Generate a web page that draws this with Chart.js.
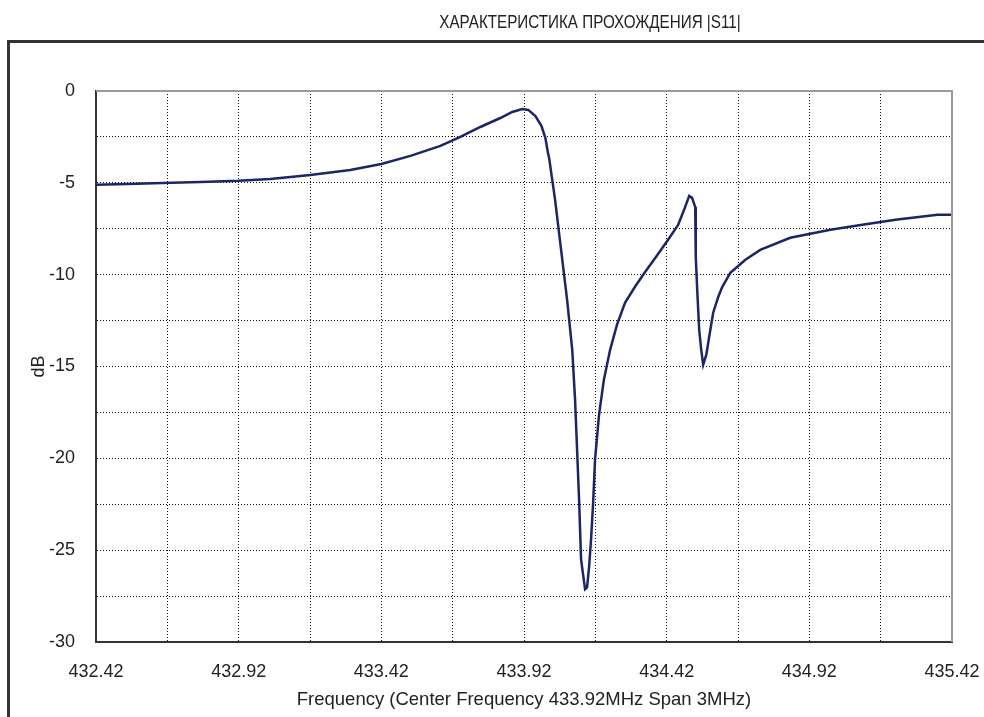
<!DOCTYPE html>
<html>
<head>
<meta charset="utf-8">
<script src="https://cdn.jsdelivr.net/npm/chart.js@4.4.1/dist/chart.umd.min.js"></script>
<style>
  body { margin: 0; background: #fff; }
  #wrap { position: relative; width: 984px; height: 717px; overflow: hidden; }
  #title { position: absolute; left: 390px; width: 400px; top: 12px; text-align: center;
           font: 18px "Liberation Sans", Arial, sans-serif; color: #222;
           transform: scaleX(0.845); transform-origin: 200px 0; }
</style>
</head>
<body>
<div id="wrap">
  <div id="title">ХАРАКТЕРИСТИКА ПРОХОЖДЕНИЯ |S11|</div>
  <canvas id="chart"></canvas>
</div>
<script>
const freqMHz = [432.42, 432.53, 432.684, 432.786, 432.919, 433.031, 433.171, 433.311, 433.42, 433.522,
  433.627, 433.697, 433.767, 433.837, 433.879, 433.914, 433.935, 433.96, 433.981, 433.995,
  434.004, 434.008, 434.029, 434.05, 434.071, 434.089, 434.099, 434.106, 434.113, 434.12,
  434.127, 434.134, 434.141, 434.148, 434.155, 434.162, 434.169, 434.183, 434.2, 434.222,
  434.246, 434.274, 434.309, 434.345, 434.383, 434.425, 434.46, 434.481, 434.499, 434.509,
  434.52, 434.522, 434.527, 434.534, 434.541, 434.548, 434.559, 434.569, 434.583, 434.601,
  434.615, 434.643, 434.696, 434.748, 434.853, 434.994, 435.1, 435.222, 435.369, 435.42];
const s11dB = [-5.11, -5.06, -5.0, -4.95, -4.89, -4.79, -4.57, -4.30, -3.97, -3.53,
  -2.99, -2.50, -1.96, -1.47, -1.14, -0.98, -1.03, -1.36, -1.90, -2.56,
  -3.37, -3.64, -5.93, -8.65, -11.36, -14.08, -16.80, -19.52, -22.24, -25.50,
  -26.32, -27.13, -27.03, -25.94, -24.42, -22.51, -20.07, -17.62, -15.72, -14.08,
  -12.72, -11.53, -10.66, -9.84, -9.03, -8.10, -7.29, -6.47, -5.71, -5.82,
  -6.31, -9.03, -10.82, -13.0, -14.08, -14.9, -14.36, -13.38, -12.07, -11.2,
  -10.66, -9.9, -9.19, -8.65, -7.99, -7.56, -7.29, -7.01, -6.74, -6.74];

// grid every 0.25 MHz, labels every 0.5 MHz
const xTicks = [432.42, 432.67, 432.92, 433.17, 433.42, 433.67, 433.92, 434.17, 434.42, 434.67, 434.92, 435.17, 435.42];
const xLabels = ['432.42', '432.92', '433.42', '433.92', '434.42', '434.92', '435.42'];
const yTicks = [0, -2.5, -5, -7.5, -10, -12.5, -15, -17.5, -20, -22.5, -25, -27.5, -30];
const yLabels = ['0', '-5', '-10', '-15', '-20', '-25', '-30'];

const points = freqMHz.map((f, i) => ({x: f, y: s11dB[i]}));
const FONT = 'Liberation Sans, Arial, sans-serif';

const framePlugin = {
  id: 'frame',
  beforeDraw(chart) {
    const ctx = chart.ctx;
    ctx.save();
    ctx.strokeStyle = '#333';
    ctx.lineWidth = 3;
    ctx.strokeRect(8.5, 41.5, 1200, 1000);
    ctx.restore();
  },
  afterDraw(chart) {
    const {ctx, chartArea: a} = chart;
    ctx.save();
    ctx.strokeStyle = '#9a9a9a';
    ctx.lineWidth = 2;
    ctx.beginPath();
    ctx.moveTo(a.left, a.top);
    ctx.lineTo(a.right, a.top);
    ctx.lineTo(a.right, a.bottom);
    ctx.stroke();
    ctx.restore();
  }
};

new Chart(document.getElementById('chart'), {
  type: 'line',
  data: {
    datasets: [{
      data: points,
      borderColor: '#1c2566',
      borderWidth: 2.5,
      pointRadius: 0,
      tension: 0,
      fill: false
    }]
  },
  options: {
    responsive: true,
    maintainAspectRatio: false,
    animation: false,
    layout: {padding: {left: 16, right: 32, top: 91, bottom: 0}},
    plugins: {legend: {display: false}, tooltip: {enabled: false}},
    scales: {
      x: {
        type: 'linear',
        min: 432.42,
        max: 435.42,
        afterBuildTicks: s => { s.ticks = xTicks.map(v => ({value: v})); },
        afterFit: s => { s.height = 75; s.paddingLeft = 0; s.paddingRight = 0; },
        ticks: {
          autoSkip: false, maxRotation: 0, padding: 19, color: '#222',
          font: {family: FONT, size: 18},
          callback: (v, i) => (i % 2 === 0 ? xLabels[i / 2] : '')
        },
        grid: {
          drawTicks: false, lineWidth: 1,
          color: c => (c.index === xTicks.length - 1 ? 'rgba(0,0,0,0)' : '#111')
        },
        border: {color: '#333', width: 2, dash: [1, 2]},
        title: {
          display: true, text: 'Frequency (Center Frequency 433.92MHz Span 3MHz)',
          color: '#222', font: {family: FONT, size: 18.5}, padding: {top: 0, bottom: 6}
        }
      },
      y: {
        min: -30,
        max: 0,
        afterBuildTicks: s => { s.ticks = yTicks.map(v => ({value: v})); },
        afterFit: s => { s.width = 80; s.paddingTop = 0; s.paddingBottom = 0; },
        ticks: {
          padding: 21, color: '#222',
          font: {family: FONT, size: 18},
          callback: (v, i) => (i % 2 === 0 ? yLabels[i / 2] : '')
        },
        grid: {
          drawTicks: false, lineWidth: 1,
          color: c => (c.index === 0 ? 'rgba(0,0,0,0)' : '#111')
        },
        border: {color: '#333', width: 2, dash: [1, 2]},
        title: {
          display: true, text: 'dB', color: '#222',
          font: {family: FONT, size: 18}, padding: {top: 12, bottom: 0}
        }
      }
    }
  },
  plugins: [framePlugin]
});
</script>
</body>
</html>
